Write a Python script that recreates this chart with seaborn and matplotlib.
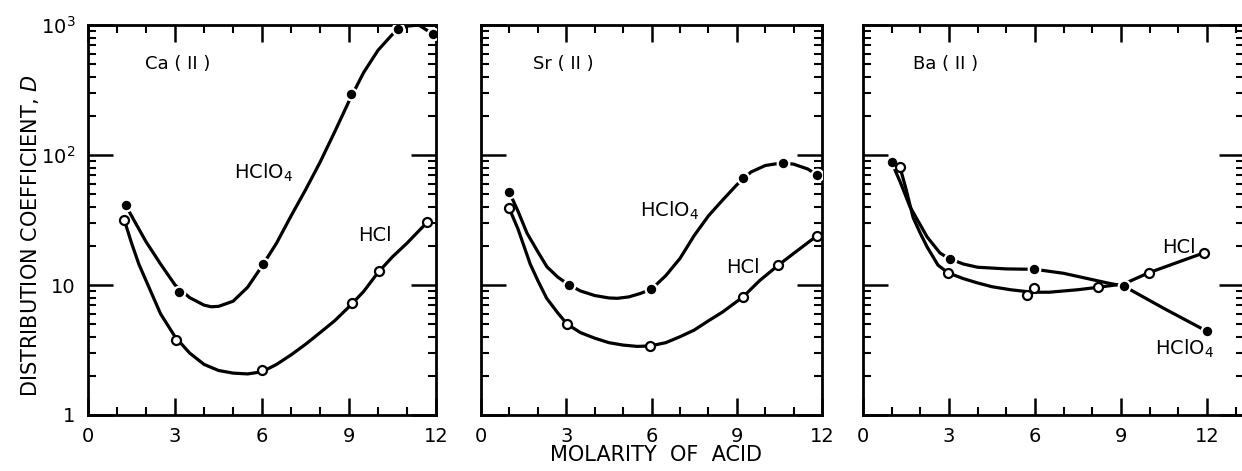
import numpy as np
import pandas as pd
import matplotlib
matplotlib.use("Agg")
import matplotlib.pyplot as plt
import matplotlib.ticker as mticker
import seaborn as sns

# ---------------- data ----------------
panels = ["Ca ( II )", "Sr ( II )", "Ba ( II )"]
x_ticks = [0, 3, 6, 9, 12]
y_tick_values = [1, 10, 100, 1000]
y_tick_labels = ["1", "10", "10$^2$", "10$^3$"]

# measured points
ca_hclo4_x = [1.3, 3.14, 6.03, 9.07, 10.7, 11.9]
ca_hclo4_d = [41, 8.8, 14.5, 295, 930, 850]
ca_hcl_x = [1.25, 3.03, 6.0, 9.1, 10.03, 11.7]
ca_hcl_d = [31.6, 3.8, 2.2, 7.3, 12.8, 30.5]

sr_hclo4_x = [0.99, 3.1, 5.99, 9.22, 10.63, 11.83]
sr_hclo4_d = [52, 10, 9.3, 66, 87, 70]
sr_hcl_x = [0.99, 3.03, 5.95, 9.22, 10.46, 11.83]
sr_hcl_d = [39, 5.0, 3.4, 8.1, 14.2, 24]

ba_hclo4_x = [1.0, 3.03, 5.97, 9.1, 12.0]
ba_hclo4_d = [88, 15.9, 13.3, 9.8, 4.4]
ba_hcl_x = [1.29, 2.97, 5.73, 5.98, 8.2, 9.96, 11.9]
ba_hcl_d = [81, 12.4, 8.4, 9.4, 9.7, 12.4, 17.7]

# drawn curves
ca_hclo4_curve_x = [1.3, 1.6, 2.0, 2.5, 3.0, 3.5, 4.0, 4.25, 4.5, 5.0, 5.5, 6.0, 6.5, 7.0,
                    7.5, 8.0, 8.5, 9.0, 9.5, 10.0, 10.5, 11.0, 11.4, 11.9]
ca_hclo4_curve_d = [41, 31, 21.5, 14.5, 10.0, 8.0, 7.0, 6.8, 6.85, 7.5, 9.6, 14.0, 21, 34,
                    54, 88, 150, 260, 430, 640, 850, 980, 1000, 850]
ca_hcl_curve_x = [1.25, 1.5, 1.75, 2.0, 2.5, 3.0, 3.5, 4.0, 4.5, 5.0, 5.5, 6.0, 6.5, 7.0, 7.5,
                  8.0, 8.5, 9.0, 9.5, 10.0, 10.5, 11.0, 11.7]
ca_hcl_curve_d = [31.6, 21, 14.5, 10.8, 6.0, 4.0, 3.0, 2.45, 2.2, 2.1, 2.07, 2.15, 2.45, 2.9, 3.5,
                  4.3, 5.3, 6.8, 8.9, 12.5, 16.5, 21, 30.5]

sr_hclo4_curve_x = [0.99, 1.3, 1.62, 2.0, 2.32, 2.7, 3.1, 3.5, 4.0, 4.5, 4.8, 5.2, 5.6, 6.0,
                    6.5, 7.0, 7.5, 8.0, 8.5, 9.0, 9.5, 10.0, 10.6, 11.0, 11.5, 11.83]
sr_hclo4_curve_d = [52, 37, 25, 18, 13.8, 11.5, 10, 9.0, 8.3, 7.95, 7.9, 8.1, 8.6, 9.3,
                    11.8, 16, 24, 34, 45, 59, 74, 83, 87, 85, 78, 70]
sr_hcl_curve_x = [0.99, 1.3, 1.73, 2.0, 2.31, 2.7, 3.03, 3.5, 4.0, 4.5, 5.0, 5.5, 5.95, 6.5,
                  7.0, 7.5, 8.0, 8.5, 9.22, 9.8, 10.46, 11.0, 11.83]
sr_hcl_curve_d = [39, 27, 14.5, 10.8, 7.9, 6.1, 5.0, 4.3, 3.9, 3.6, 3.45, 3.37, 3.4, 3.6,
                  4.0, 4.5, 5.3, 6.2, 8.1, 10.8, 14.2, 17.5, 24]

ba_hclo4_curve_x = [1.0, 1.3, 1.64, 2.0, 2.24, 2.69, 3.0, 3.5, 4.0, 5.0, 6.0, 7.0, 7.6,
                    8.5, 9.1, 10.5, 12.0]
ba_hclo4_curve_d = [88, 62, 40, 29, 23.4, 17.6, 16, 14.5, 13.7, 13.3, 13.2, 12.3, 11.5,
                    10.4, 9.8, 6.6, 4.4]
ba_hcl_curve_x = [1.29, 1.5, 1.75, 2.0, 2.24, 2.62, 2.97, 3.5, 3.98, 4.5, 5.14, 5.9, 6.5,
                  7.5, 8.2, 9.1, 9.96, 11.9]
ba_hcl_curve_d = [81, 55, 33, 25, 19.6, 14.2, 12.4, 11.2, 10.4, 9.7, 9.2, 8.8, 8.8,
                  9.2, 9.6, 10.2, 12.4, 17.7]

# ---------------- figure ----------------
sns.set_theme(style="white")
plt.rcParams["font.family"] = ["DejaVu Sans"]
plt.rcParams["mathtext.fontset"] = "dejavusans"
plt.rcParams["text.color"] = "black"
plt.rcParams["axes.labelcolor"] = "black"
plt.rcParams["xtick.color"] = "black"
plt.rcParams["ytick.color"] = "black"

fig = plt.figure(figsize=(12.42, 4.71), dpi=100)
bottom, height = 0.1189, 0.828
axes_pos = [
    (0.0709, 0.2802, 12.0),
    (0.3873, 0.2746, 12.0),
    (0.6948, 0.3068, 13.29),
]

panel_data = [
    (ca_hclo4_x, ca_hclo4_d, ca_hcl_x, ca_hcl_d,
     ca_hclo4_curve_x, ca_hclo4_curve_d, ca_hcl_curve_x, ca_hcl_curve_d),
    (sr_hclo4_x, sr_hclo4_d, sr_hcl_x, sr_hcl_d,
     sr_hclo4_curve_x, sr_hclo4_curve_d, sr_hcl_curve_x, sr_hcl_curve_d),
    (ba_hclo4_x, ba_hclo4_d, ba_hcl_x, ba_hcl_d,
     ba_hclo4_curve_x, ba_hclo4_curve_d, ba_hcl_curve_x, ba_hcl_curve_d),
]

# label placement (axes fraction, left aligned)
title_pos = [(0.164, 0.90), (0.152, 0.90), (0.131, 0.90)]
hclo4_pos = [(0.42, 0.62), (0.466, 0.523), (0.766, 0.17)]
hcl_pos = [(0.776, 0.46), (0.718, 0.377), (0.785, 0.43)]

lw = 2.3
for i, (left, width, xmax) in enumerate(axes_pos):
    ax = fig.add_axes([left, bottom, width, height])
    (px1, pd1, px2, pd2, cx1, cd1, cx2, cd2) = panel_data[i]

    sns.lineplot(x=cx1, y=cd1, ax=ax, color="black", lw=lw, sort=False,
                 estimator=None, zorder=2)
    sns.lineplot(x=cx2, y=cd2, ax=ax, color="black", lw=lw, sort=False,
                 estimator=None, zorder=2)
    sns.scatterplot(x=px1, y=pd1, ax=ax, color="black", s=70, marker="o",
                    edgecolor="white", linewidth=1.6, zorder=4)
    sns.scatterplot(x=px2, y=pd2, ax=ax, facecolor="white", s=42, marker="o",
                    edgecolor="black", linewidth=1.6, zorder=5)

    ax.set_yscale("log")
    ax.set_ylim(1, 1000)
    ax.set_xlim(0, xmax)
    ax.set_xticks(x_ticks)
    ax.set_xticklabels([str(t) for t in x_ticks])
    ax.xaxis.set_minor_locator(mticker.MultipleLocator(1))
    ax.set_yticks(y_tick_values)
    ax.yaxis.set_minor_locator(mticker.LogLocator(base=10, subs=np.arange(2, 10)))
    ax.yaxis.set_minor_formatter(mticker.NullFormatter())
    if i == 0:
        ax.set_yticklabels(y_tick_labels)
    else:
        ax.set_yticklabels([])

    ax.tick_params(which="major", direction="in", length=12, width=1.8,
                   top=True, right=True, bottom=True, left=True,
                   labelsize=14, pad=9, colors="black")
    ax.tick_params(which="minor", direction="in", length=6, width=1.5,
                   top=True, right=True, bottom=True, left=True)
    ax.tick_params(axis="y", which="major", length=18)
    for sp in ax.spines.values():
        sp.set_linewidth(2.0)
        sp.set_color("black")
    ax.set_xlabel("")
    ax.set_ylabel("")
    ax.grid(False)

    ax.text(*title_pos[i], panels[i], transform=ax.transAxes, fontsize=13,
            ha="left", va="center")
    ax.text(*hclo4_pos[i], "HClO$_4$", transform=ax.transAxes, fontsize=14,
            ha="left", va="center")
    ax.text(*hcl_pos[i], "HCl", transform=ax.transAxes, fontsize=14,
            ha="left", va="center")

fig.text(656 / 1242, 1 - 455 / 471, "MOLARITY  OF  ACID", ha="center", va="center",
         fontsize=15)
fig.text(30 / 1242, 0.499, "DISTRIBUTION COEFFICIENT, $\\mathit{D}$", ha="center",
         va="center", rotation=90, fontsize=15)

fig.savefig("out.png", dpi=100)
